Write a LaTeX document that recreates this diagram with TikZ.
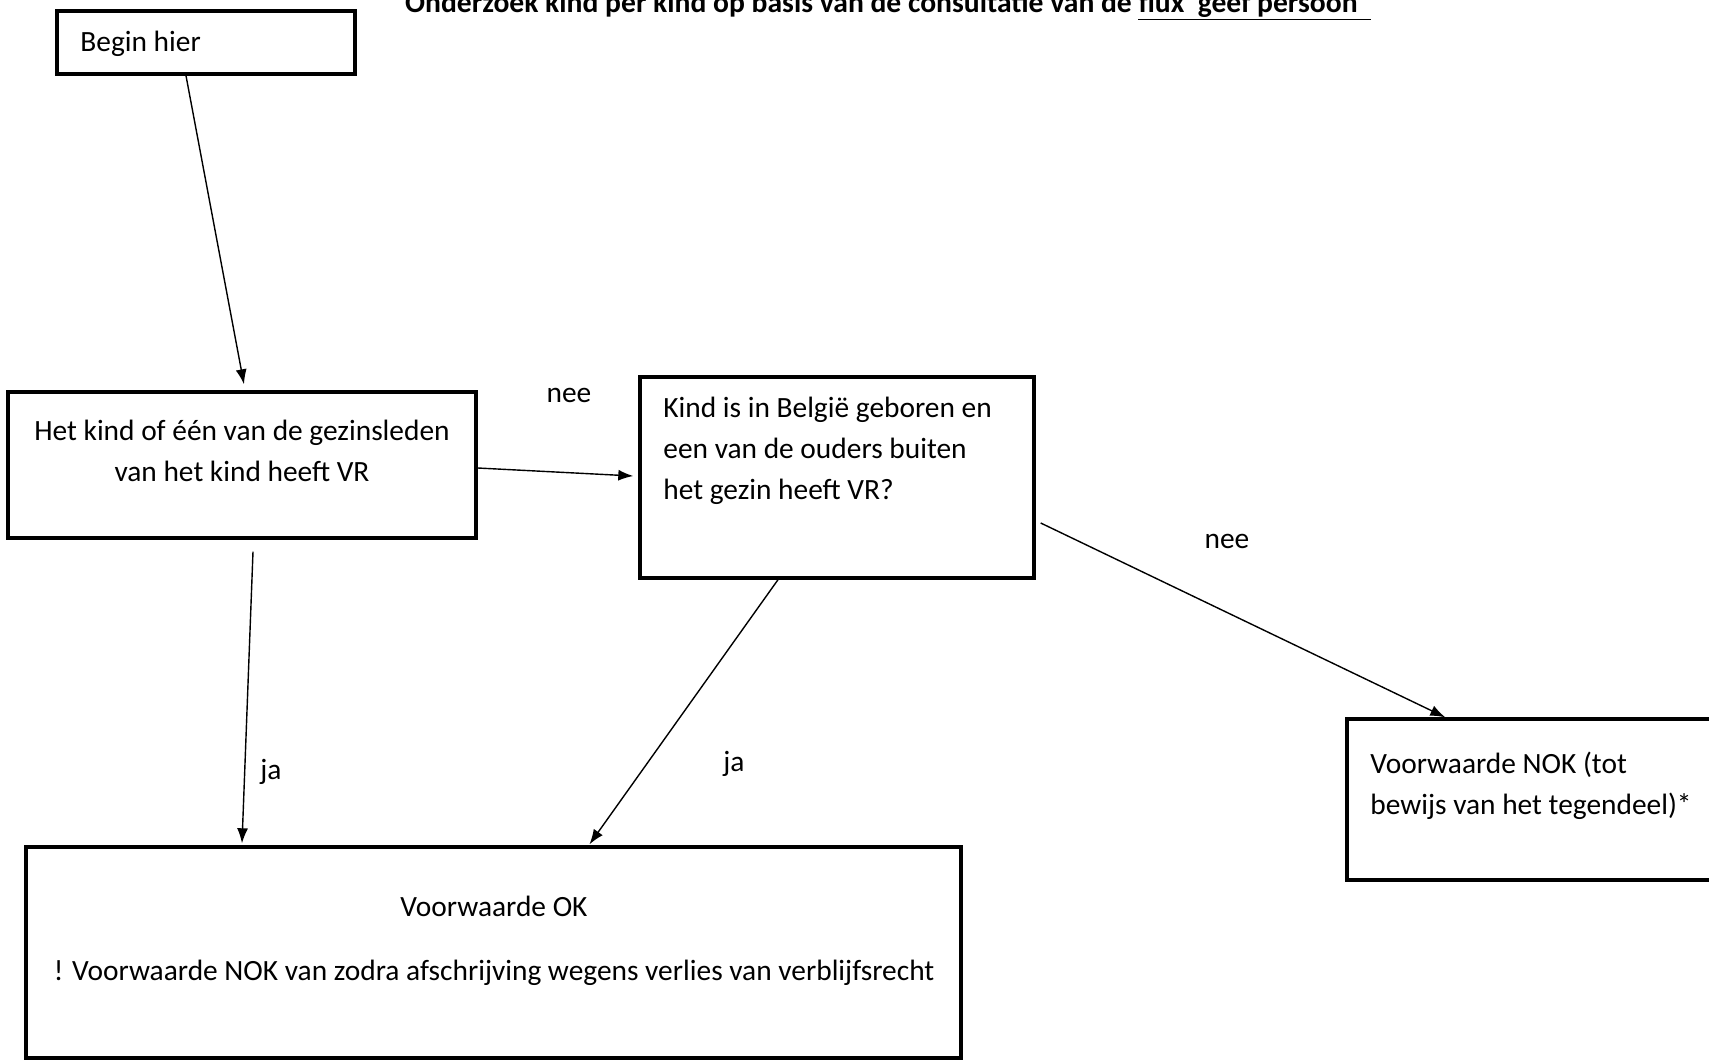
\documentclass[tikz,border=0pt]{standalone}
\usepackage{fontspec}
\setmainfont{Carlito}
\usetikzlibrary{arrows.meta}

\begin{document}
\begin{tikzpicture}[x=0.5pt,y=-0.5pt,
    box/.style={draw,line width=1.7pt,inner sep=0pt},
    txt/.style={inner sep=0pt,font=\fontsize{14.7}{20.5}\selectfont},
    arr/.style={-{Latex[length=7.5pt,width=5.5pt]},line width=0.7pt}]
            \useasboundingbox (0,0) rectangle (1709,1060);
            % title, cut at the top edge
            \node[txt,font=\bfseries\fontsize{14.8}{16}\selectfont,anchor=base] at (888,12) (title) {Onderzoek kind per kind op basis van de consultatie van de \underline{flux \ geef persoon\ \ }};
            % boxes
            \node[box,minimum width=149pt,minimum height=31.5pt] at (206,42.5) (begin) {};
            \node[box,minimum width=234pt,minimum height=73pt] at (242,465) (hk) {};
            \node[box,minimum width=197pt,minimum height=100.5pt] at (837,477.5) (kb) {};
            \node[box,minimum width=186.5pt,minimum height=80.5pt] at (1533.5,799.5) (nok) {};
            \node[box,minimum width=467.5pt,minimum height=105.5pt] at (493.5,952.5) (ok) {};
            % texts
            \node[txt,anchor=west] at (80,44) (tbegin) {Begin hier};
            \node[txt,align=center] at (242,451) (thk) {Het kind of één van de gezinsleden\\van het kind heeft VR};
            \node[txt,align=left,anchor=west] at (663,451) (tkb) {Kind is in België geboren en\\een van de ouders buiten\\het gezin heeft VR?};
            \node[txt,align=left,anchor=west] at (1370,786) (tnok) {Voorwaarde NOK (tot\\bewijs van het tegendeel)*};
            \node[txt] at (494,906) (tok) {Voorwaarde OK};
            \node[txt] at (494,973) (tok2) {! Voorwaarde NOK van zodra afschrijving wegens verlies van verblijfsrecht};
            % labels
            \node[txt] at (569,395) (nee1) {nee};
            \node[txt] at (1227,541) (nee2) {nee};
            \node[txt] at (271,772) (ja1) {ja};
            \node[txt] at (734,764) (ja2) {ja};
            % arrows
            \draw[arr] ([xshift=-10pt]begin.south) to ([xshift=1pt,yshift=3pt]hk.north);
            \draw[arr] ([yshift=-1.5pt]hk.east) to ([xshift=-2.5pt,yshift=0.75pt]kb.west);
            \draw[arr] ([xshift=5.5pt,yshift=-6pt]hk.south) to ([yshift=1pt]ok.north -| hk.south);
            \draw[arr] ([xshift=-29.5pt]kb.south) to ([xshift=48pt,yshift=0.5pt]ok.north);
            \draw[arr] ([xshift=2.5pt,yshift=-22.75pt]kb.east) to ([xshift=50pt]nok.north west);
        \end{tikzpicture}
\end{document}
